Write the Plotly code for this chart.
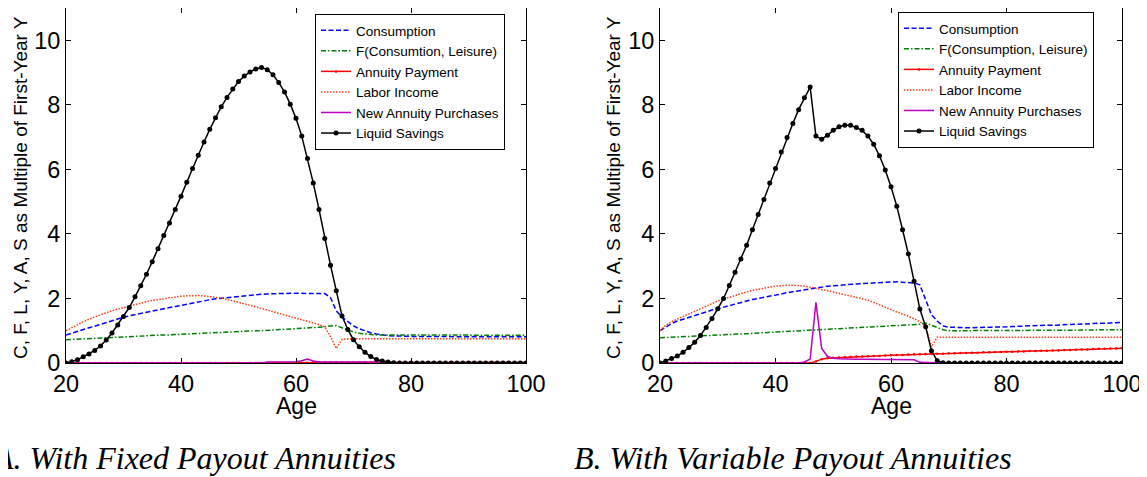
import plotly.graph_objects as go

# ---------------- data ----------------
ages = list(range(20, 101))

# Panel A: fixed payout annuities
cons_A = [0.87, 0.93, 0.99, 1.04, 1.09, 1.14, 1.20, 1.25, 1.30, 1.36,
          1.42, 1.46, 1.49, 1.53, 1.57, 1.61, 1.65, 1.69, 1.72, 1.75,
          1.78, 1.82, 1.86, 1.90, 1.93, 1.96, 1.99, 2.01, 2.03, 2.05,
          2.07, 2.09, 2.10, 2.12, 2.13, 2.14, 2.15, 2.15, 2.16, 2.16,
          2.16, 2.16, 2.16, 2.16, 2.16, 2.15, 2.02, 1.62, 1.42, 1.27,
          1.15, 1.06, 0.99, 0.94, 0.90, 0.87, 0.85, 0.84, 0.83, 0.83,
          0.82, 0.82, 0.82, 0.82, 0.82, 0.82, 0.82, 0.82, 0.82, 0.82,
          0.81, 0.81, 0.81, 0.81, 0.81, 0.81, 0.81, 0.81, 0.81, 0.81, 0.81]
fcl_A = [0.72, 0.73, 0.74, 0.75, 0.76, 0.77, 0.78, 0.79, 0.80, 0.80,
         0.81, 0.82, 0.83, 0.84, 0.84, 0.85, 0.86, 0.87, 0.87, 0.88,
         0.89, 0.90, 0.90, 0.91, 0.92, 0.93, 0.94, 0.94, 0.95, 0.96,
         0.97, 0.98, 0.99, 1.00, 1.00, 1.01, 1.02, 1.03, 1.04, 1.05,
         1.06, 1.07, 1.08, 1.09, 1.10, 1.12, 1.15, 1.16, 1.09, 1.02,
         0.96, 0.92, 0.90, 0.88, 0.87, 0.87, 0.87, 0.87, 0.87, 0.87,
         0.87, 0.87, 0.87, 0.87, 0.87, 0.86, 0.86, 0.86, 0.86, 0.86,
         0.86, 0.86, 0.86, 0.86, 0.86, 0.86, 0.86, 0.86, 0.86, 0.86, 0.86]
annpay_A = [0.0] * 42 + [0.01] + [0.02] * 38
labor_A = [1.00, 1.10, 1.19, 1.28, 1.36, 1.43, 1.50, 1.56, 1.62, 1.67,
           1.72, 1.77, 1.82, 1.86, 1.90, 1.94, 1.97, 2.00, 2.03, 2.05,
           2.07, 2.08, 2.09, 2.09, 2.08, 2.06, 2.04, 2.01, 1.97, 1.93,
           1.89, 1.84, 1.79, 1.74, 1.69, 1.64, 1.59, 1.54, 1.49, 1.44,
           1.40, 1.35, 1.30, 1.25, 1.19, 1.12, 0.82, 0.45, 0.73, 0.75,
           0.75, 0.75, 0.75, 0.75, 0.75, 0.75, 0.75, 0.75, 0.75, 0.75,
           0.75, 0.75, 0.75, 0.75, 0.75, 0.75, 0.75, 0.75, 0.75, 0.75,
           0.75, 0.75, 0.75, 0.75, 0.75, 0.75, 0.75, 0.75, 0.75, 0.75, 0.75]
newann_A = ([0.0] * 35 + [0.03, 0.03, 0.03, 0.03, 0.03, 0.04, 0.07, 0.12, 0.06]
            + [0.03] * 13 + [0.0] * 20)
save_A = [0.00, 0.04, 0.10, 0.19, 0.28, 0.39, 0.53, 0.71, 0.93, 1.18,
          1.44, 1.72, 2.05, 2.39, 2.75, 3.14, 3.54, 3.95, 4.34, 4.76,
          5.17, 5.60, 6.03, 6.44, 6.85, 7.24, 7.60, 7.94, 8.23, 8.49,
          8.72, 8.89, 9.02, 9.11, 9.16, 9.09, 8.93, 8.69, 8.40, 8.02,
          7.58, 7.03, 6.34, 5.58, 4.76, 3.86, 3.03, 2.24, 1.46, 1.04,
          0.72, 0.50, 0.33, 0.20, 0.11, 0.06, 0.03, 0.01, 0.00, 0.00,
          0.00, 0.00, 0.00, 0.00, 0.00, 0.00, 0.00, 0.00, 0.00, 0.00,
          0.00, 0.00, 0.00, 0.00, 0.00, 0.00, 0.00, 0.00, 0.00, 0.00, 0.00]

# Panel B: variable payout annuities
cons_B = [1.00, 1.12, 1.22, 1.30, 1.36, 1.42, 1.48, 1.54, 1.60, 1.64,
          1.68, 1.73, 1.78, 1.83, 1.88, 1.93, 1.97, 2.00, 2.03, 2.07,
          2.10, 2.14, 2.18, 2.21, 2.25, 2.28, 2.31, 2.34, 2.36, 2.38,
          2.39, 2.41, 2.42, 2.44, 2.45, 2.46, 2.47, 2.48, 2.49, 2.50,
          2.51, 2.52, 2.50, 2.49, 2.48, 2.42, 1.95, 1.50, 1.30, 1.15,
          1.11, 1.10, 1.09, 1.09, 1.09, 1.10, 1.10, 1.10, 1.11, 1.12,
          1.12, 1.13, 1.14, 1.15, 1.16, 1.16, 1.17, 1.17, 1.17, 1.18,
          1.18, 1.19, 1.20, 1.21, 1.22, 1.22, 1.23, 1.23, 1.24, 1.25, 1.26]
fcl_B = [0.78, 0.79, 0.80, 0.81, 0.82, 0.83, 0.84, 0.85, 0.86, 0.87,
         0.87, 0.88, 0.89, 0.90, 0.90, 0.91, 0.92, 0.93, 0.94, 0.95,
         0.96, 0.97, 0.97, 0.98, 0.99, 1.00, 1.00, 1.01, 1.02, 1.03,
         1.04, 1.05, 1.06, 1.07, 1.08, 1.09, 1.10, 1.11, 1.12, 1.13,
         1.14, 1.15, 1.16, 1.17, 1.18, 1.20, 1.24, 1.17, 1.08, 1.03,
         1.00, 1.00, 1.00, 1.00, 1.00, 1.00, 1.00, 1.00, 1.00, 1.00,
         1.00, 1.00, 1.00, 1.00, 1.00, 1.01, 1.01, 1.01, 1.01, 1.01,
         1.02, 1.02, 1.02, 1.02, 1.02, 1.02, 1.03, 1.03, 1.03, 1.03, 1.03]
annpay_B = [0.00] * 27 + [
    0.05, 0.12, 0.15, 0.16, 0.17, 0.18, 0.19, 0.20, 0.20, 0.21,
    0.22, 0.22, 0.23, 0.24, 0.25, 0.25, 0.26, 0.27, 0.27, 0.28,
    0.28, 0.29, 0.29, 0.30, 0.30, 0.31, 0.31, 0.32, 0.32, 0.33,
    0.33, 0.34, 0.34, 0.35, 0.35, 0.36, 0.36, 0.37, 0.37, 0.38,
    0.38, 0.39, 0.39, 0.40, 0.40, 0.41, 0.42, 0.42, 0.43, 0.44,
    0.44, 0.45, 0.45, 0.46]
labor_B = [1.00, 1.17, 1.28, 1.36, 1.45, 1.53, 1.61, 1.69, 1.77, 1.84,
           1.92, 1.98, 2.04, 2.10, 2.15, 2.20, 2.25, 2.29, 2.32, 2.35,
           2.38, 2.40, 2.41, 2.41, 2.40, 2.38, 2.35, 2.32, 2.28, 2.24,
           2.20, 2.16, 2.12, 2.08, 2.04, 2.00, 1.95, 1.88, 1.80, 1.72,
           1.64, 1.58, 1.52, 1.45, 1.37, 1.28, 1.15, 0.50, 0.80, 0.80,
           0.80, 0.80, 0.80, 0.80, 0.80, 0.80, 0.80, 0.80, 0.80, 0.80,
           0.80, 0.80, 0.80, 0.80, 0.80, 0.80, 0.80, 0.80, 0.80, 0.80,
           0.80, 0.80, 0.80, 0.80, 0.80, 0.80, 0.80, 0.80, 0.80, 0.80, 0.80]
newann_B = ([0.0] * 25 + [0.03, 0.12, 1.88, 0.45, 0.20, 0.15, 0.13, 0.12, 0.12,
                          0.12, 0.12, 0.12, 0.11, 0.11, 0.11, 0.11, 0.11, 0.11,
                          0.11, 0.10, 0.02, 0.01, 0.0, 0.0, 0.0] + [0.0] * 31)
save_B = [0.00, 0.06, 0.14, 0.22, 0.33, 0.48, 0.64, 0.85, 1.10, 1.38,
          1.68, 2.00, 2.40, 2.81, 3.22, 3.65, 4.13, 4.60, 5.07, 5.58,
          6.03, 6.54, 6.99, 7.42, 7.85, 8.22, 8.55, 7.03, 6.93, 7.06,
          7.21, 7.32, 7.37, 7.37, 7.30, 7.21, 7.03, 6.78, 6.42, 5.98,
          5.46, 4.86, 4.13, 3.38, 2.53, 1.67, 1.12, 0.38, 0.07, 0.01,
          0.00, 0.00, 0.00, 0.00, 0.00, 0.00, 0.00, 0.00, 0.00, 0.00,
          0.00, 0.00, 0.00, 0.00, 0.00, 0.00, 0.00, 0.00, 0.00, 0.00,
          0.00, 0.00, 0.00, 0.00, 0.00, 0.00, 0.00, 0.00, 0.00, 0.00, 0.00]

names_A = ["Consumption", "F(Consumtion, Leisure)", "Annuity Payment",
           "Labor Income", "New Annuity Purchases", "Liquid Savings"]
names_B = ["Consumption", "F(Consumption, Leisure)", "Annuity Payment",
           "Labor Income", "New Annuity Purchases", "Liquid Savings"]

xticks = [20, 40, 60, 80, 100]
yticks = [0, 2, 4, 6, 8, 10]
ytitle = "C, F, L, Y, A, S as Multiple of First-Year Y"
caption_A = "A. With Fixed Payout Annuities"
caption_B = "B. With Variable Payout Annuities"

# ---------------- styles / layout ----------------
VIEW_W, VIEW_H = 1147, 477
OFF = 8                      # page body margin in the browser
W, H = VIEW_W - OFF, VIEW_H - OFF
SANS = "Liberation Sans, Arial, sans-serif"
SERIF = "Liberation Serif, Times New Roman, serif"

styles = [
    dict(mode="lines", line=dict(color="#0000ff", width=1.5, dash="5px,2.5px")),
    dict(mode="lines", line=dict(color="#008000", width=1.5, dash="5px,2px,1.5px,2px")),
    dict(mode="lines+markers", line=dict(color="#ff0000", width=1.5),
         marker=dict(size=2.5, color="#ff0000", symbol="circle")),
    dict(mode="lines", line=dict(color="#ff3a10", width=1.5, dash="1.5px,1.5px")),
    dict(mode="lines", line=dict(color="#c000c0", width=1.5)),
    dict(mode="lines+markers", line=dict(color="#000000", width=1.5),
         marker=dict(size=5, color="#000000", symbol="circle")),
]

fig = go.Figure()

series_A = [cons_A, fcl_A, annpay_A, labor_A, newann_A, save_A]
series_B = [cons_B, fcl_B, annpay_B, labor_B, newann_B, save_B]

for nm, ys, st in zip(names_A, series_A, styles):
    fig.add_trace(go.Scatter(x=ages, y=ys, name=nm, xaxis="x", yaxis="y",
                             legend="legend", **st))
for nm, ys, st in zip(names_B, series_B, styles):
    fig.add_trace(go.Scatter(x=ages, y=ys, name=nm, xaxis="x2", yaxis="y2",
                             legend="legend2", **st))

def px_x(p):
    return (p - OFF) / W

def px_y(p):
    return 1 - (p - OFF) / H

axis_common = dict(showline=True, linecolor="black", linewidth=1, mirror="ticks",
                   ticks="inside", ticklen=5, tickcolor="black", showgrid=False,
                   zeroline=False, automargin=False,
                   tickfont=dict(family=SANS, size=23.5, color="black"))

leg_common = dict(xanchor="left", yanchor="top",
                  bgcolor="white", bordercolor="black", borderwidth=1,
                  font=dict(family=SANS, size=13.5, color="black"),
                  tracegroupgap=0, itemwidth=30)

fig.update_layout(
    template="none",
    width=W, height=H,
    margin=dict(l=0, r=0, t=0, b=0, autoexpand=False),
    paper_bgcolor="white", plot_bgcolor="white",
    font=dict(family=SANS, color="black"),
    xaxis=dict(domain=[px_x(66), px_x(526)], range=[20, 100], tickvals=xticks,
               anchor="y", **axis_common),
    yaxis=dict(domain=[px_y(363), px_y(8)], range=[0, 11], tickvals=yticks,
               anchor="x", **axis_common),
    xaxis2=dict(domain=[px_x(660), px_x(1122)], range=[20, 100], tickvals=xticks,
                anchor="y2", **axis_common),
    yaxis2=dict(domain=[px_y(363), px_y(8)], range=[0, 11], tickvals=yticks,
                anchor="x2", **axis_common),
    legend=dict(x=px_x(315), y=px_y(14), **leg_common),
    legend2=dict(x=px_x(898), y=px_y(12), **leg_common),
    showlegend=True,
)

annotations = []
for cx in (20, 613):
    annotations.append(dict(text=ytitle, x=px_x(cx), y=px_y(188), xref="paper", yref="paper",
                            textangle=-90, showarrow=False, xanchor="center", yanchor="middle",
                            font=dict(family=SANS, size=19, color="black")))
for cx in (296, 891):
    annotations.append(dict(text="Age", x=px_x(cx), y=px_y(406), xref="paper", yref="paper",
                            showarrow=False, xanchor="center", yanchor="middle",
                            font=dict(family=SANS, size=23, color="black")))
annotations.append(dict(text="<i>" + caption_A + "</i>", x=px_x(398), y=px_y(458),
                        xref="paper", yref="paper", showarrow=False,
                        xanchor="right", yanchor="middle",
                        font=dict(family=SERIF, size=32, color="black")))
annotations.append(dict(text="<i>" + caption_B + "</i>", x=px_x(1014), y=px_y(458),
                        xref="paper", yref="paper", showarrow=False,
                        xanchor="right", yanchor="middle",
                        font=dict(family=SERIF, size=32, color="black")))
fig.update_layout(annotations=annotations)

fig.write_html("out.html")
